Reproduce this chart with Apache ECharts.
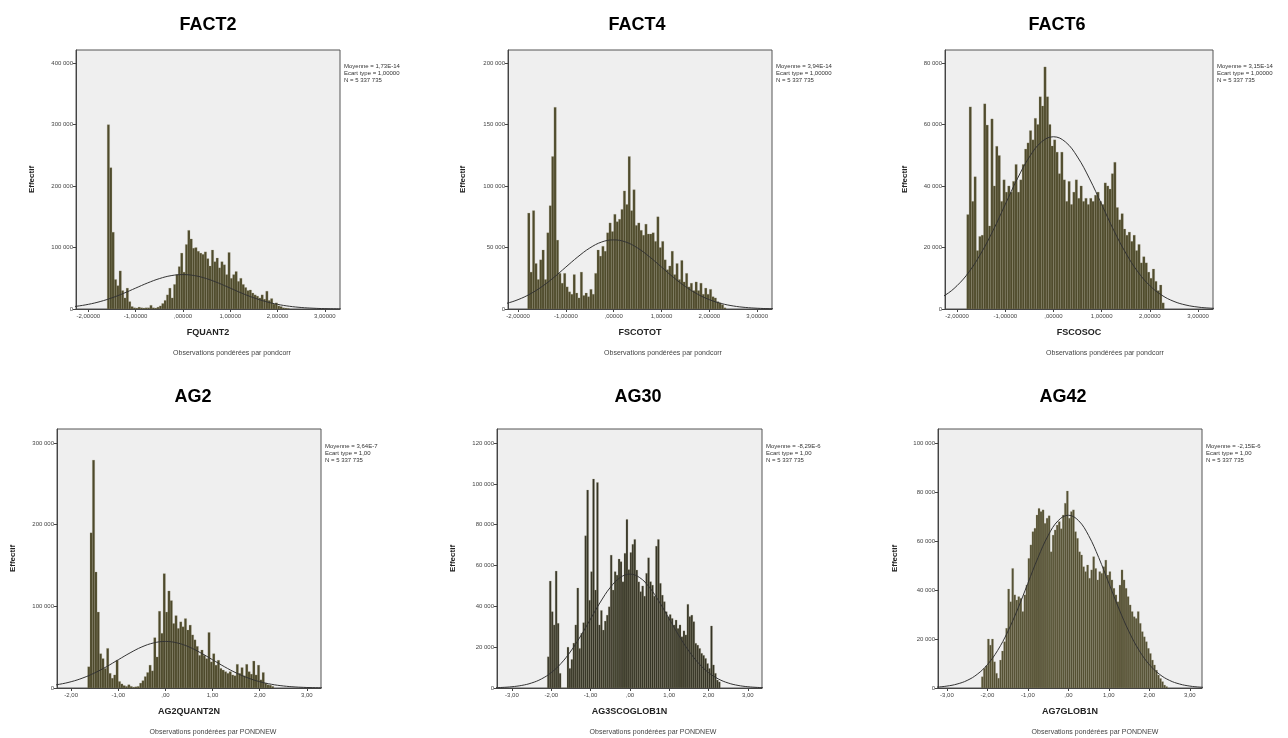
<!DOCTYPE html>
<html>
<head>
<meta charset="utf-8">
<title>Histogrammes</title>
<script src="https://cdn.jsdelivr.net/npm/echarts@6/dist/echarts.min.js"></script>
<style>
  html, body { margin: 0; padding: 0; background: #fff; }
  #chart { width: 1288px; height: 738px; }
</style>
</head>
<body>
<div id="chart"></div>
<script>
// ---- data ----
const titles = ['FACT2', 'FACT4', 'FACT6', 'AG2', 'AG30', 'AG42'];
const varNames = ['FQUANT2', 'FSCOTOT', 'FSCOSOC', 'AG2QUANT2N', 'AG3SCOGLOB1N', 'AG7GLOB1N'];
const weightNotes = [
  'Observations pondérées par pondcorr', 'Observations pondérées par pondcorr', 'Observations pondérées par pondcorr',
  'Observations pondérées par PONDNEW', 'Observations pondérées par PONDNEW', 'Observations pondérées par PONDNEW'
];
const means = ['1,73E-14', '3,94E-14', '3,15E-14', '3,64E-7', '-8,29E-6', '-2,15E-6'];
const stdDevs = ['1,00000', '1,00000', '1,00000', '1,00', '1,00', '1,00'];
const nObs = '5 337 735';

const binWidth = 0.05;
const binStarts = [-1.60, -1.80, -1.80, -1.65, -2.10, -2.15];

const fact2Counts = [300000, 230000, 125000, 48000, 38000, 62000, 30000, 18000, 34000, 12000,
  4000, 2000, 1500, 3000, 2000, 1500, 2000, 2000, 6000, 2000,
  1500, 3000, 5000, 9000, 14000, 23000, 34000, 18000, 40000, 56000,
  69000, 91000, 60000, 105000, 128000, 114000, 99000, 100000, 94000, 91000,
  89000, 93000, 82000, 70000, 96000, 77000, 83000, 67000, 77000, 72000,
  56000, 92000, 50000, 56000, 61000, 45000, 50000, 40000, 35000, 30000,
  31000, 26000, 23000, 21000, 18000, 23000, 16000, 29000, 14000, 17000,
  8000, 10000, 5000, 4000, 2000, 1500, 1000];

const fact4Counts = [78000, 30000, 80000, 37000, 24000, 40000, 48000, 24000, 62000, 84000,
  124000, 164000, 56000, 29000, 21000, 29000, 18000, 14000, 12000, 28000,
  13000, 9000, 30000, 11000, 13000, 10000, 16000, 12000, 29000, 48000,
  43000, 51000, 47000, 62000, 70000, 63000, 77000, 71000, 73000, 81000,
  96000, 85000, 124000, 80000, 97000, 68000, 70000, 64000, 60000, 69000,
  61000, 61000, 62000, 55000, 75000, 50000, 55000, 40000, 32000, 35000,
  47000, 28000, 37000, 24000, 39500, 22000, 29000, 18000, 21000, 15000,
  22000, 15000, 21000, 12000, 17000, 12000, 16000, 10000, 9000, 6000,
  5000, 3500, 1000];

const fact6Counts = [30700, 65700, 35000, 43000, 19000, 23600, 24000, 66700, 59800, 27000,
  61800, 40000, 52900, 49900, 35000, 42000, 38000, 40000, 38000, 41500,
  47000, 38000, 42000, 47000, 52000, 54000, 58000, 55000, 62000, 60000,
  69000, 66000, 78700, 69000, 60000, 53000, 55000, 51000, 44000, 51000,
  42000, 35000, 41500, 34000, 38000, 42000, 36000, 40000, 35000, 36000,
  34000, 36000, 35000, 37000, 38000, 35000, 34000, 41000, 40000, 39000,
  44000, 47700, 33000, 29000, 31000, 26000, 24000, 25000, 22000, 24000,
  19000, 21000, 15000, 17000, 15000, 12000, 10000, 13000, 9000, 6000,
  7800, 2000];

const ag2Counts = [26000, 190000, 279000, 142000, 93000, 42000, 36000, 24000, 48500, 18000,
  12000, 16000, 34000, 8000, 5000, 3000, 2000, 4000, 2000, 1000,
  1500, 2000, 6000, 9000, 14000, 19000, 28000, 21000, 61600, 38000,
  94000, 67000, 140000, 93000, 118800, 107000, 79000, 88600, 73000, 81000,
  75000, 85000, 71000, 77000, 65000, 59000, 51000, 40000, 46500, 40000,
  36000, 68000, 32000, 42000, 28000, 34000, 24000, 22000, 20000, 18000,
  20000, 16000, 15000, 29000, 18000, 25000, 15000, 29000, 20000, 17000,
  33000, 16000, 28000, 10000, 19000, 6000, 4000, 3500, 2000];

const ag30Counts = [15300, 52400, 37400, 30900, 57300, 31700, 7200, 0, 0, 0,
  20000, 9600, 14000, 22000, 30900, 49000, 19400, 26800, 32000, 74600,
  97000, 43000, 57000, 102400, 48000, 100700, 30900, 38000, 28400, 32800,
  35700, 39800, 65100, 48000, 57000, 55300, 63200, 61900, 52000, 66000,
  82600, 58000, 66400, 70400, 72800, 57800, 52000, 47200, 50000, 45000,
  56200, 63800, 52100, 50400, 45000, 69500, 72800, 51300, 45500, 42300,
  37400, 34900, 36000, 34100, 30900, 33300, 29200, 30900, 25100, 28000,
  26000, 41000, 35000, 35700, 32500, 21900, 21000, 19400, 17000, 16000,
  14500, 12000, 9600, 30400, 11300, 7200, 3900, 3000];

const ag42Counts = [4600, 8000, 9000, 20000, 17500, 20000, 10700, 6000, 4000, 11400,
  15100, 18900, 24400, 40400, 35200, 48800, 38000, 35900, 37300, 36600,
  31200, 38000, 42000, 52900, 58400, 63800, 65200, 70600, 73300, 72000,
  72700, 67200, 69300, 70300, 55600, 62400, 64500, 66500, 67900, 65000,
  70600, 75400, 80400, 69300, 72000, 72700, 63800, 61100, 55600, 54300,
  49500, 47500, 50200, 44800, 48200, 53600, 48800, 44100, 47500, 46800,
  49500, 52200, 46100, 47500, 44100, 40700, 38000, 35200, 42000, 48200,
  44100, 40700, 37300, 33900, 31200, 29100, 28400, 31200, 26400, 23000,
  20900, 18900, 16200, 14100, 11400, 9400, 7300, 5300, 3900, 2600,
  1200, 600];

// normal curve, read at every 0.25 from -3.5 to 3.5
const curveX = [-3.5, -3.25, -3, -2.75, -2.5, -2.25, -2, -1.75, -1.5, -1.25, -1, -0.75, -0.5, -0.25, 0,
  0.25, 0.5, 0.75, 1, 1.25, 1.5, 1.75, 2, 2.25, 2.5, 2.75, 3, 3.25, 3.5];
const fact2Curve = [120, 280, 620, 1280, 2460, 4460, 7580, 12100, 18200, 25600, 34000, 42300, 49400, 54300, 56000,
  54300, 49400, 42300, 34000, 25600, 18200, 12100, 7580, 4460, 2460, 1280, 620, 280, 120];
const fact4Curve = [120, 280, 620, 1280, 2470, 4480, 7600, 12150, 18250, 25700, 34100, 42400, 49600, 54500, 56200,
  54500, 49600, 42400, 34100, 25700, 18250, 12150, 7600, 4480, 2470, 1280, 620, 280, 120];
const fact6Curve = fact2Curve;
const ag2Curve = [125, 290, 630, 1300, 2500, 4540, 7710, 12330, 18500, 26100, 34600, 43000, 50300, 55200, 57000,
  55200, 50300, 43000, 34600, 26100, 18500, 12330, 7710, 4540, 2500, 1300, 630, 290, 125];
const ag30Curve = [120, 280, 620, 1270, 2450, 4440, 7550, 12070, 18120, 25550, 33840, 42120, 49240, 54080, 55800,
  54080, 49240, 42120, 33840, 25550, 18120, 12070, 7550, 4440, 2450, 1270, 620, 280, 120];
const ag42Curve = [150, 360, 780, 1610, 3090, 5610, 9540, 15250, 22890, 32280, 42760, 53210, 62220, 68330, 70500,
  68330, 62220, 53210, 42760, 32280, 22890, 15250, 9540, 5610, 3090, 1610, 780, 360, 150];

const xTicksA = [-2, -1, 0, 1, 2, 3];
const xTicksB = [-3, -2, -1, 0, 1, 2, 3];
const yTicksFact2 = [0, 100000, 200000, 300000, 400000];
const yTicksFact4 = [0, 50000, 100000, 150000, 200000];
const yTicksFact6 = [0, 20000, 40000, 60000, 80000];
const yTicksAg2 = [0, 100000, 200000, 300000];
const yTicksAg30 = [0, 20000, 40000, 60000, 80000, 100000, 120000];
const yTicksAg42 = [0, 20000, 40000, 60000, 80000, 100000];

const allCounts = [fact2Counts, fact4Counts, fact6Counts, ag2Counts, ag30Counts, ag42Counts];
const allCurves = [fact2Curve, fact4Curve, fact6Curve, ag2Curve, ag30Curve, ag42Curve];
const allXTicks = [xTicksA, xTicksA, xTicksA, xTicksA, xTicksB, xTicksB];
const allYTicks = [yTicksFact2, yTicksFact4, yTicksFact6, yTicksAg2, yTicksAg30, yTicksAg42];

// ---- layout of the six panels ----
const panels = [
  { left: 76,  top: 50,  width: 264, xMin: -2.26, xMax: 3.32, yMax: 421600, dec: 5, yGap: 40, titleX: 208,  titleY: 25,  noteX: 232,  noteY: 353, statsX: 344,  statsY: 66,  fill: '#4f4b2c' },
  { left: 508, top: 50,  width: 264, xMin: -2.21, xMax: 3.31, yMax: 210600, dec: 5, yGap: 41, titleX: 637,  titleY: 25,  noteX: 663,  noteY: 353, statsX: 776,  statsY: 66,  fill: '#4f4b2c' },
  { left: 945, top: 50,  width: 268, xMin: -2.25, xMax: 3.31, yMax: 84200,  dec: 5, yGap: 36, titleX: 1057, titleY: 25,  noteX: 1105, noteY: 353, statsX: 1217, statsY: 66,  fill: '#4f4b2c' },
  { left: 57,  top: 429, width: 264, xMin: -2.30, xMax: 3.30, yMax: 317100, dec: 2, yGap: 40, titleX: 193,  titleY: 397, noteX: 213,  noteY: 732, statsX: 325,  statsY: 446, fill: '#4d492b' },
  { left: 497, top: 429, width: 265, xMin: -3.38, xMax: 3.36, yMax: 126900, dec: 2, yGap: 40, titleX: 638,  titleY: 397, noteX: 653,  noteY: 732, statsX: 766,  statsY: 446, fill: '#353425' },
  { left: 938, top: 429, width: 264, xMin: -3.22, xMax: 3.30, yMax: 105700, dec: 2, yGap: 39, titleX: 1063, titleY: 397, noteX: 1095, noteY: 732, statsX: 1206, statsY: 446, fill: '#545033' }
];
const plotHeight = 259;
const FONT = '"Liberation Sans", Arial, sans-serif';

function fmtY(v) {
  return v === 0 ? '0' : String(v).replace(/\B(?=(\d{3})+(?!\d))/g, ' ');
}
function fmtX(dec) {
  return (v) => {
    let s = Math.abs(v).toFixed(dec).replace('.', ',');
    if (s.startsWith('0')) s = s.slice(1);
    return (v < 0 ? '-' : '') + s;
  };
}

function barRenderer(fill) {
  return function (params, api) {
    const x0 = api.value(0);
    const y = api.value(1);
    const p0 = api.coord([x0, y]);
    const p1 = api.coord([x0 + binWidth, 0]);
    return {
      type: 'rect',
      shape: { x: p0[0], y: p0[1], width: p1[0] - p0[0], height: p1[1] - p0[1] },
      style: { fill: fill, stroke: 'rgba(160,158,130,0.45)', lineWidth: 0.5 }
    };
  };
}

const grid = [], xAxis = [], yAxis = [], series = [], graphic = [];

panels.forEach((p, i) => {
  grid.push({
    left: p.left, top: p.top, width: p.width, height: plotHeight,
    show: true, backgroundColor: '#efefef', borderColor: '#555', borderWidth: 1
  });

  xAxis.push({
    type: 'value', gridIndex: i, min: p.xMin, max: p.xMax,
    name: varNames[i], nameLocation: 'middle', nameGap: 19,
    nameTextStyle: { fontFamily: FONT, fontWeight: 'bold', fontSize: 9, color: '#222' },
    axisLine: { show: true, onZero: false, lineStyle: { color: '#444', width: 1 } },
    axisTick: { show: true, length: 3, customValues: allXTicks[i], lineStyle: { color: '#444' } },
    axisLabel: { customValues: allXTicks[i], formatter: fmtX(p.dec), fontFamily: FONT, fontSize: 6, color: '#444', margin: 4 },
    splitLine: { show: false }
  });

  yAxis.push({
    type: 'value', gridIndex: i, min: 0, max: p.yMax,
    name: 'Effectif', nameLocation: 'middle', nameGap: p.yGap,
    nameTextStyle: { fontFamily: FONT, fontWeight: 'bold', fontSize: 8, color: '#222' },
    axisLine: { show: true, onZero: false, lineStyle: { color: '#444', width: 1 } },
    axisTick: { show: true, length: 3, customValues: allYTicks[i], lineStyle: { color: '#444' } },
    axisLabel: { customValues: allYTicks[i], formatter: fmtY, fontFamily: FONT, fontSize: 6, color: '#444', margin: 3 },
    splitLine: { show: false }
  });

  series.push({
    type: 'custom', xAxisIndex: i, yAxisIndex: i, clip: true, z: 2,
    renderItem: barRenderer(p.fill),
    encode: { x: 0, y: 1 },
    data: allCounts[i].map((c, k) => [binStarts[i] + k * binWidth, c])
  });

  series.push({
    type: 'line', xAxisIndex: i, yAxisIndex: i, clip: true, z: 3,
    smooth: 0.4, showSymbol: false, silent: true,
    lineStyle: { color: '#333', width: 1 },
    data: curveX.map((x, k) => [x, allCurves[i][k]])
  });

  graphic.push({
    type: 'text', x: p.titleX, y: p.titleY,
    style: { text: titles[i], font: 'bold 18px ' + FONT, fill: '#000', align: 'center', verticalAlign: 'middle', textAlign: 'center', textVerticalAlign: 'middle' }
  });
  graphic.push({
    type: 'text', x: p.noteX, y: p.noteY,
    style: { text: weightNotes[i], font: '7px ' + FONT, fill: '#444', align: 'center', verticalAlign: 'middle', textAlign: 'center', textVerticalAlign: 'middle' }
  });
  const statLines = ['Moyenne = ' + means[i], 'Ecart type = ' + stdDevs[i], 'N = ' + nObs];
  statLines.forEach((t, k) => {
    graphic.push({
      type: 'text', x: p.statsX, y: p.statsY + k * 7.3,
      style: { text: t, font: '6px ' + FONT, fill: '#333', align: 'left', verticalAlign: 'middle', textAlign: 'left', textVerticalAlign: 'middle' }
    });
  });
});

const chart = echarts.init(document.getElementById('chart'));
chart.setOption({
  animation: false,
  backgroundColor: '#fff',
  grid: grid,
  xAxis: xAxis,
  yAxis: yAxis,
  series: series,
  graphic: graphic
});
</script>
</body>
</html>
